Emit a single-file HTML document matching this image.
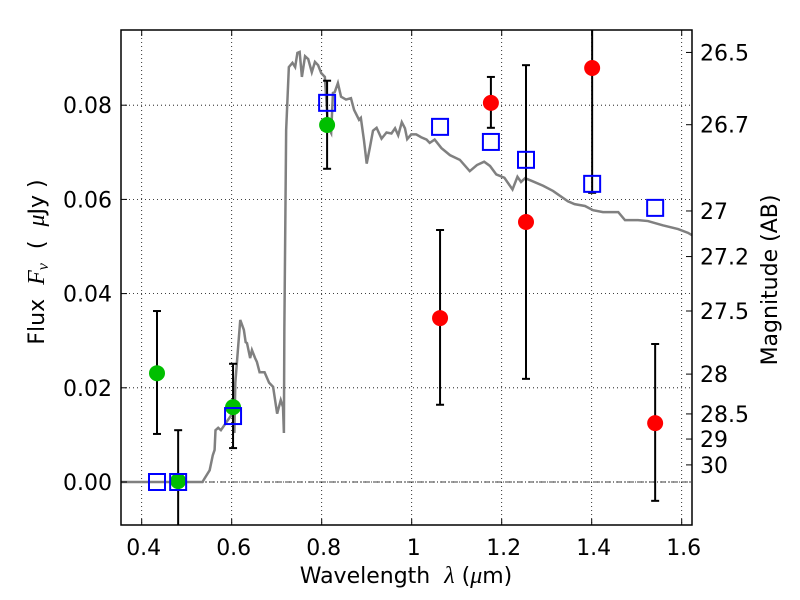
<!DOCTYPE html>
<html><head><meta charset="utf-8"><style>
html,body{margin:0;padding:0;background:#fff;}
svg{display:block;font-family:"DejaVu Sans","Liberation Sans",sans-serif;}
</style></head><body>
<svg id="chart" width="800" height="600" viewBox="0 0 800 600"></svg>
<script>
const xTicks=[0.4,0.6,0.8,1.0,1.2,1.4,1.6];
const xTickLabels=["0.4","0.6","0.8","1","1.2","1.4","1.6"];
const yTicks=[0,0.02,0.04,0.06,0.08];
const yTickLabels=["0.00","0.02","0.04","0.06","0.08"];
const magTicks=[26.5,26.7,27,27.2,27.5,28,28.5,29,30];
const magLabels=["26.5","26.7","27","27.2","27.5","28","28.5","29","30"];
const modelWl=[0.434,0.481,0.603,0.812,1.063,1.176,1.254,1.401,1.541];
const modelFlux=[0,0,0.014,0.0805,0.0754,0.0722,0.0684,0.0633,0.0582];
const greenWl=[0.434,0.481,0.603,0.812];
const greenFlux=[0.0231,0.0002,0.0159,0.0758];
const greenHi=[0.0363,0.011,0.0251,0.0852];
const greenLo=[0.0102,-0.02,0.0072,0.0665];
const redWl=[1.063,1.176,1.254,1.401,1.541];
const redFlux=[0.0348,0.0805,0.0552,0.0879,0.0125];
const redHi=[0.0535,0.086,0.0885,0.11,0.0293];
const redLo=[0.0164,0.0752,0.0219,0.0614,-0.004];
const specWl=[0.354,0.535,0.540,0.551,0.558,0.562,0.564,0.570,0.576,0.602,0.606,0.608,0.619,0.627,0.631,0.634,0.641,0.645,0.652,0.656,0.662,0.673,0.683,0.692,0.701,0.709,0.714,0.716,0.717,0.721,0.727,0.735,0.741,0.746,0.751,0.756,0.763,0.770,0.778,0.785,0.792,0.799,0.807,0.814,0.821,0.825,0.829,0.836,0.843,0.854,0.865,0.872,0.883,0.887,0.894,0.900,0.907,0.914,0.922,0.933,0.944,0.955,0.963,0.970,0.978,0.985,0.990,0.999,1.010,1.021,1.033,1.040,1.051,1.066,1.085,1.107,1.129,1.145,1.161,1.174,1.188,1.206,1.224,1.235,1.243,1.252,1.265,1.292,1.314,1.347,1.362,1.385,1.403,1.425,1.459,1.474,1.503,1.525,1.558,1.592,1.614,1.623];
const specFlux=[0,0,0.0008,0.0025,0.0057,0.0068,0.0110,0.0115,0.0110,0.0146,0.0104,0.0210,0.0344,0.0323,0.0297,0.0295,0.0263,0.0280,0.0263,0.0255,0.0233,0.0233,0.0211,0.0202,0.0145,0.0174,0.0159,0.0104,0.0323,0.0747,0.0881,0.0890,0.0881,0.0911,0.0913,0.0860,0.0904,0.0898,0.0870,0.0892,0.0885,0.0868,0.0860,0.0754,0.0741,0.0826,0.0828,0.0847,0.0818,0.0812,0.0815,0.0790,0.0769,0.0773,0.0725,0.0676,0.0710,0.0746,0.0752,0.0729,0.0742,0.0740,0.0751,0.0736,0.0764,0.0751,0.0728,0.0738,0.0738,0.0732,0.0727,0.0720,0.0727,0.0709,0.0694,0.0684,0.0660,0.0673,0.0680,0.0671,0.0653,0.0646,0.0621,0.0648,0.0637,0.0645,0.0640,0.0629,0.0618,0.0596,0.0590,0.0586,0.0577,0.0573,0.0573,0.0556,0.0556,0.0554,0.0545,0.0537,0.0529,0.0524];
const L=121,R=692,T=30,B=525;
const X=v=>141.7+(v-0.4)*450;
const Y=v=>482-v*4710;
const NS="http://www.w3.org/2000/svg";
const svg=document.getElementById('chart');
function mk(tag,attrs,parent){const e=document.createElementNS(NS,tag);for(const k in attrs)e.setAttribute(k,attrs[k]);(parent||svg).appendChild(e);return e;}
const clip=mk('clipPath',{id:'pc'});mk('rect',{x:L,y:T,width:R-L,height:B-T},clip);
const plot=mk('g',{'clip-path':'url(#pc)'});


xTicks.forEach((v,i)=>{
  const g=mk('line',{x1:X(v),x2:X(v),y1:T,y2:B,stroke:'#000','stroke-width':0.8,'stroke-dasharray':'1,3'},plot);
  
  
  mk('line',{x1:X(v),x2:X(v),y1:B,y2:B-6,stroke:'#000'});
  mk('line',{x1:X(v),x2:X(v),y1:T,y2:T+6,stroke:'#000'});
  const t=mk('text',{x:X(v)+2,y:B+30,'text-anchor':'middle','font-size':22});
  t.textContent=xTickLabels[i];
  
  
});
yTicks.forEach((v,i)=>{
  const g=mk('line',{x1:L,x2:R,y1:Y(v),y2:Y(v),stroke:'#000','stroke-width':0.8,'stroke-dasharray':'1,3'},plot);
  
  
  mk('line',{x1:L,x2:L+6,y1:Y(v),y2:Y(v),stroke:'#000'});
  const t=mk('text',{x:L-9,y:Y(v)+8,'text-anchor':'end','font-size':22});
  t.textContent=yTickLabels[i];
  
  
});
const zl=mk('line',{x1:L,x2:R,y1:Y(0),y2:Y(0),stroke:'#000','stroke-width':0.8,'stroke-dasharray':'6,2,1,2'},plot);


const sp=mk('polyline',{points:specWl.map((w,i)=>X(w)+','+Y(specFlux[i])).join(' '),fill:'none',stroke:'#808080','stroke-width':2.5},plot);


function errs(wl,hi,lo,name){wl.forEach((w,i)=>{
  const g=mk('g',{stroke:'#000','stroke-width':2},plot);
  
  
  mk('line',{x1:X(w),x2:X(w),y1:Y(hi[i]),y2:Y(lo[i])},g);
  mk('line',{x1:X(w)-4,x2:X(w)+4,y1:Y(hi[i]),y2:Y(hi[i])},g);
  mk('line',{x1:X(w)-4,x2:X(w)+4,y1:Y(lo[i]),y2:Y(lo[i])},g);
});}
errs(greenWl,greenHi,greenLo,'green-error-bar');
errs(redWl,redHi,redLo,'red-error-bar');
greenWl.forEach((w,i)=>{const c=mk('circle',{cx:X(w),cy:Y(greenFlux[i]),r:8,fill:'#00bf00'},plot);
  
  });
redWl.forEach((w,i)=>{const c=mk('circle',{cx:X(w),cy:Y(redFlux[i]),r:8,fill:'#ff0000'},plot);
  
  });
modelWl.forEach((w,i)=>{const s=mk('rect',{x:X(w)-8,y:Y(modelFlux[i])-8,width:16,height:16,fill:'none',stroke:'#0000ff','stroke-width':2},plot);
  
  });
magTicks.forEach((m,i)=>{
  const y=Y(Math.pow(10,(23.9-m)/2.5));
  mk('line',{x1:R,x2:R-6,y1:y,y2:y,stroke:'#000'});
  const t=mk('text',{x:R+8,y:y+8,'font-size':22});
  t.textContent=magLabels[i];
  
  
});
const fr=mk('rect',{x:L,y:T,width:R-L,height:B-T,fill:'none',stroke:'#000','stroke-width':1.5});


const xl=mk('text',{x:406,y:583,'text-anchor':'middle','font-size':22,'xml:space':'preserve'});
xl.setAttribute('style','white-space:pre');
xl.innerHTML='Wavelength  <tspan font-style="italic" font-family="Liberation Serif" font-size="24">λ</tspan> (<tspan font-style="italic" font-family="Liberation Serif" font-size="24">μ</tspan>m)';


const yl=mk('text',{x:0,y:0,'text-anchor':'middle','font-size':22,transform:'translate(44,262) rotate(-90)'});
yl.setAttribute('style','white-space:pre');
yl.innerHTML='Flux  <tspan font-style="italic" font-family="Liberation Serif" font-size="24">F</tspan><tspan font-style="italic" font-family="Liberation Serif" font-size="16" dy="4">ν</tspan><tspan dy="-4">  (  </tspan><tspan font-style="italic" font-family="Liberation Serif" font-size="24">μ</tspan>Jy )';


const ml=mk('text',{x:0,y:0,'text-anchor':'middle','font-size':22,transform:'translate(777,280) rotate(-90)'});
ml.textContent='Magnitude (AB)';


</script>
</body></html>
